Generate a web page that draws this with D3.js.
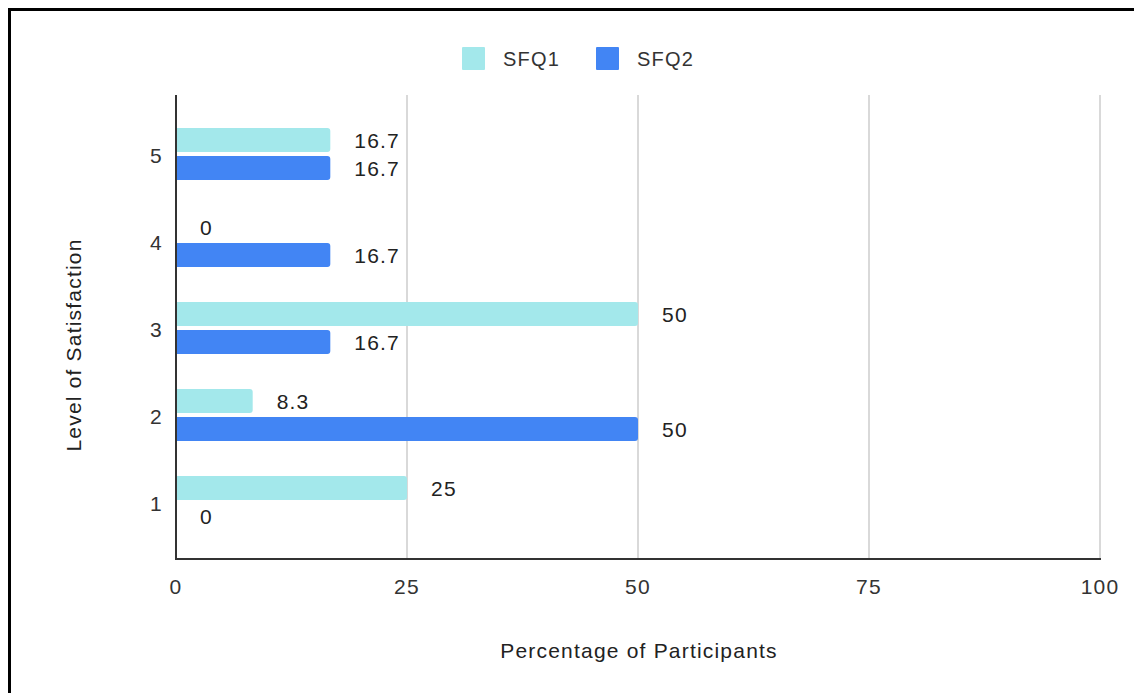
<!DOCTYPE html>
<html>
<head>
<meta charset="utf-8">
<script src="https://cdn.jsdelivr.net/npm/d3@7"></script>
<style>
  body { margin: 0; background: #fff; }
  text { font-family: "Liberation Sans", Arial, sans-serif; letter-spacing: 1.2px; }
</style>
</head>
<body>
<div id="chart"></div>
<script>
// data
const levels = ["5", "4", "3", "2", "1"];
const seriesNames = ["SFQ1", "SFQ2"];
const sfq1 = [16.7, 0, 50, 8.3, 25];
const sfq2 = [16.7, 16.7, 16.7, 50, 0];
const xTicks = [0, 25, 50, 75, 100];

const colors = { SFQ1: "#a3e8eb", SFQ2: "#4285f4" };

const W = 1134, H = 693;
const plot = { left: 176, right: 1100, top: 95, bottom: 559 };
const fs = 21;

const svg = d3.select("#chart").append("svg")
    .attr("width", W)
    .attr("height", H);

// frame lines (top and left) seen in the picture
svg.append("rect").attr("x", 8).attr("y", 8).attr("width", W - 8).attr("height", 3).attr("fill", "#000");
svg.append("rect").attr("x", 8).attr("y", 8).attr("width", 3).attr("height", H - 8).attr("fill", "#000");

const x = d3.scaleLinear().domain([0, 100]).range([plot.left, plot.right]);
const y0 = d3.scaleBand().domain(levels).range([110.5, 545.5]);
const y1 = d3.scaleBand().domain(seriesNames)
    .range([y0.bandwidth() / 2 - 26, y0.bandwidth() / 2 + 26])
    .paddingInner(4 / 28);

// gridlines
svg.append("g")
    .selectAll("line")
    .data(xTicks.filter(d => d > 0))
    .enter().append("line")
    .attr("x1", d => x(d)).attr("x2", d => x(d))
    .attr("y1", plot.top).attr("y2", plot.bottom)
    .attr("stroke", "#cccccc")
    .attr("stroke-width", 1.5);

// rows
const rows = levels.map((lv, i) => ({ level: lv, values: [
    { key: "SFQ1", value: sfq1[i] },
    { key: "SFQ2", value: sfq2[i] }
] }));

const groups = svg.append("g").selectAll("g")
    .data(rows)
    .enter().append("g")
    .attr("transform", d => `translate(0,${y0(d.level)})`);

// bar with only the right corners rounded
function barPath(x0, x1, yt, h, r) {
    const p = d3.path();
    p.moveTo(x0, yt);
    p.lineTo(x1 - r, yt);
    p.arcTo(x1, yt, x1, yt + r, r);
    p.lineTo(x1, yt + h - r);
    p.arcTo(x1, yt + h, x1 - r, yt + h, r);
    p.lineTo(x0, yt + h);
    p.closePath();
    return p.toString();
}

groups.selectAll("path")
    .data(d => d.values.filter(v => v.value > 0))
    .enter().append("path")
    .attr("d", d => barPath(x(0), x(d.value), y1(d.key), y1.bandwidth(), 3))
    .attr("fill", d => colors[d.key]);

groups.selectAll("text.val")
    .data(d => d.values)
    .enter().append("text")
    .attr("class", "val")
    .attr("x", d => x(d.value) + 24)
    .attr("y", d => y1(d.key) + y1.bandwidth() / 2)
    .attr("dy", "0.36em")
    .attr("font-size", fs)
    .attr("fill", "#222")
    .text(d => d.value);

// axes lines
svg.append("line")
    .attr("x1", plot.left).attr("x2", plot.left)
    .attr("y1", plot.top).attr("y2", plot.bottom)
    .attr("stroke", "#333").attr("stroke-width", 2);
svg.append("line")
    .attr("x1", plot.left - 1).attr("x2", plot.right + 1)
    .attr("y1", plot.bottom).attr("y2", plot.bottom)
    .attr("stroke", "#333").attr("stroke-width", 2);

// x tick labels
svg.append("g").selectAll("text")
    .data(xTicks)
    .enter().append("text")
    .attr("x", d => x(d))
    .attr("y", 586)
    .attr("dy", "0.36em")
    .attr("text-anchor", "middle")
    .attr("font-size", fs)
    .attr("fill", "#333")
    .text(d => d);

// y tick labels
svg.append("g").selectAll("text")
    .data(levels)
    .enter().append("text")
    .attr("x", 163)
    .attr("y", d => y0(d) + y0.bandwidth() / 2 + 1)
    .attr("dy", "0.36em")
    .attr("text-anchor", "end")
    .attr("font-size", fs)
    .attr("fill", "#333")
    .text(d => d);

// axis titles
svg.append("text")
    .attr("x", (plot.left + plot.right) / 2 + 1)
    .attr("y", 650)
    .attr("dy", "0.36em")
    .attr("text-anchor", "middle")
    .attr("font-size", fs)
    .attr("fill", "#222")
    .text("Percentage of Participants");

svg.append("text")
    .attr("transform", `translate(73,${(plot.top + plot.bottom) / 2 + 18}) rotate(-90)`)
    .attr("dy", "0.36em")
    .attr("text-anchor", "middle")
    .attr("font-size", fs)
    .attr("fill", "#222")
    .text("Level of Satisfaction");

// legend
const legend = svg.append("g").selectAll("g")
    .data(seriesNames)
    .enter().append("g")
    .attr("transform", (d, i) => `translate(${462 + i * 134},47)`);

legend.append("rect")
    .attr("width", 23).attr("height", 23)
    .attr("rx", 1)
    .attr("fill", d => colors[d]);

legend.append("text")
    .attr("x", 41)
    .attr("y", 12)
    .attr("dy", "0.36em")
    .attr("font-size", fs - 1)
    .attr("fill", "#333")
    .text(d => d);
</script>
</body>
</html>
